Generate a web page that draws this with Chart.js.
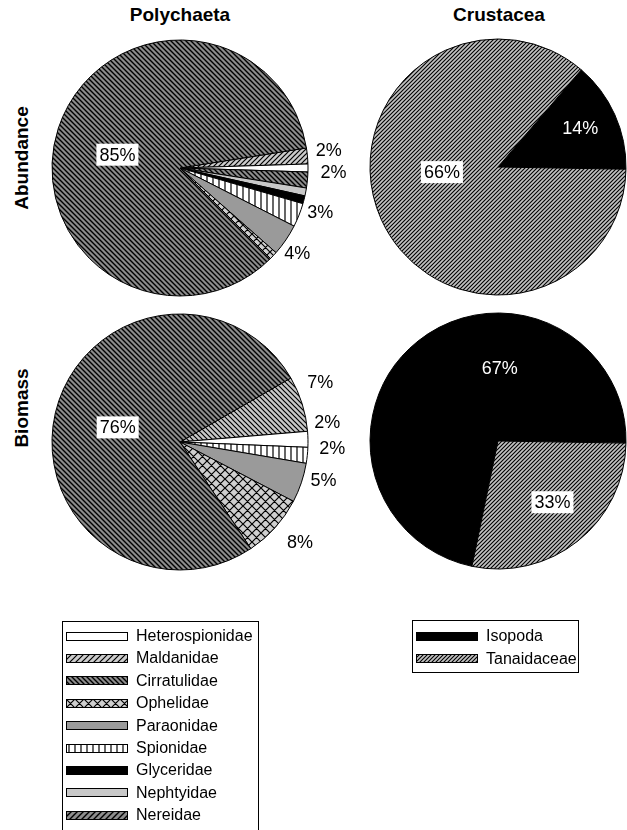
<!DOCTYPE html>
<html lang="en">
<head>
<meta charset="UTF-8">
<title>Polychaeta / Crustacea</title>
<style>
  body { margin:0; width:627px; height:830px; overflow:hidden; background:#fff; position:relative;
         font-family:"Liberation Sans", Arial, sans-serif; color:#000; }
  canvas.pie { position:absolute; }
  .title { position:absolute; font-weight:bold; font-size:19px; transform:translate(-50%,-50%); white-space:nowrap; }
  .row { position:absolute; font-weight:bold; font-size:19px; white-space:nowrap;
         transform:translate(-50%,-50%) rotate(-90deg); }
  .legend { position:absolute; border:1px solid #000; background:#fff; }
  .item { position:absolute; left:3px; height:20px; display:flex; align-items:center; font-size:16px; white-space:nowrap; }
  .item canvas { margin-right:8px; }
</style>
</head>
<body>

<div class="title" style="left:180px; top:15px;">Polychaeta</div>
<div class="title" style="left:499px; top:15px;">Crustacea</div>
<div class="row" style="left:22px; top:158px;">Abundance</div>
<div class="row" style="left:22px; top:408px;">Biomass</div>

<canvas class="pie" id="polyAbund" width="360" height="336" style="left:0; top:0;"></canvas>
<canvas class="pie" id="crusAbund" width="300" height="300" style="left:348px; top:17px;"></canvas>
<canvas class="pie" id="polyBio" width="360" height="340" style="left:0; top:272px;"></canvas>
<canvas class="pie" id="crusBio" width="300" height="300" style="left:348px; top:291px;"></canvas>

<div class="legend" id="polyLegend" style="left:62px; top:621px; width:195px; height:230px;"></div>
<div class="legend" id="crusLegend" style="left:412px; top:620px; width:165px; height:51px;"></div>

<script src="https://cdn.jsdelivr.net/npm/chart.js@4.4.1/dist/chart.umd.min.js"></script>
<script>
// --- data (slices listed clockwise) ---
const polyAbundTaxa = ['Maldanidae', 'Heterospionidae', 'Nereidae', 'Nephtyidae', 'Glyceridae', 'Spionidae', 'Paraonidae', 'Ophelidae', 'Cirratulidae'];
const polyAbundPct  = [2, 1, 2, 1, 1, 3, 4, 1, 85];
const polyAbundText = ['2%', '', '2%', '', '', '3%', '4%', '', '85%'];

const polyBioTaxa = ['Maldanidae', 'Heterospionidae', 'Spionidae', 'Paraonidae', 'Ophelidae', 'Cirratulidae'];
const polyBioPct  = [7, 2, 2, 5, 8, 76];
const polyBioText = ['7%', '2%', '2%', '5%', '8%', '76%'];

const crusTaxa = ['Isopoda', 'Tanaidaceae'];
// arc shares as drawn; the printed labels are kept as in the figure
const crusAbundShare = [14, 86];
const crusAbundText  = ['14%', '66%'];
const crusBioShare   = [72, 28];
const crusBioText    = ['67%', '33%'];

const polyLegendTaxa = ['Heterospionidae', 'Maldanidae', 'Cirratulidae', 'Ophelidae', 'Paraonidae', 'Spionidae', 'Glyceridae', 'Nephtyidae', 'Nereidae'];

// --- fill patterns ---
function tile(s, bg, draw) {
    var c = document.createElement('canvas');
    c.width = s; c.height = s;
    var g = c.getContext('2d');
    g.fillStyle = bg; g.fillRect(0, 0, s, s);
    g.strokeStyle = '#000';
    draw(g, s);
    return g.createPattern(c, 'repeat');
}
function back(bg, s, lw) {   // "\\\\"
    return tile(s, bg, function (g, s) {
        g.lineWidth = lw; g.beginPath();
        for (var k = -1; k <= 1; k++) { g.moveTo(-s, -s + k * s); g.lineTo(2 * s, 2 * s + k * s); }
        g.stroke();
    });
}
function fwd(bg, s, lw) {    // "////"
    return tile(s, bg, function (g, s) {
        g.lineWidth = lw; g.beginPath();
        for (var k = 0; k <= 2; k++) { g.moveTo(-s, k * s + s); g.lineTo(2 * s, k * s - 2 * s); }
        g.stroke();
    });
}
function vert(bg, s, lw) {
    return tile(s, bg, function (g, s) {
        g.lineWidth = lw; g.beginPath(); g.moveTo(s / 2, 0); g.lineTo(s / 2, s); g.stroke();
    });
}
function lattice(bg, s, lw) {
    return tile(s, bg, function (g, s) {
        g.lineWidth = lw; g.beginPath();
        for (var k = -1; k <= 1; k++) { g.moveTo(-s, -s + k * s); g.lineTo(2 * s, 2 * s + k * s); }
        for (var k = 0; k <= 2; k++) { g.moveTo(-s, k * s + s); g.lineTo(2 * s, k * s - 2 * s); }
        g.stroke();
    });
}

var fills = {
    Heterospionidae: '#ffffff',
    Maldanidae: fwd('#cccccc', 5, 1.2),
    Cirratulidae: back('#8c8c8c', 5, 1.4),
    Ophelidae: lattice('#cfcfcf', 9, 1.2),
    Paraonidae: '#9a9a9a',
    Spionidae: vert('#ffffff', 6, 1.2),
    Glyceridae: '#000000',
    Nephtyidae: '#c8c8c8',
    Nereidae: back('#8c8c8c', 5, 1.4),
    Isopoda: '#000000',
    Tanaidaceae: fwd('#c2c2c2', 4, 1.1)
};
var legendFills = Object.assign({}, fills, { Nereidae: fwd('#8c8c8c', 6, 1.4), Maldanidae: fwd('#cccccc', 6, 1.2) });
var bioMaldanidae = back('#c8c8c8', 5, 1.2);

// --- percentage labels, placed from each arc's own angles ---
var sliceText = {
    id: 'sliceText',
    afterDatasetsDraw: function (chart, args, opts) {
        var ctx = chart.ctx;
        var arcs = chart.getDatasetMeta(0).data;
        ctx.save();
        ctx.font = '18px "Liberation Sans", Arial, sans-serif';
        ctx.textAlign = 'center';
        ctx.textBaseline = 'middle';
        arcs.forEach(function (arc, i) {
            var t = opts.text[i];
            if (!t) return;
            var p = arc.getProps(['x', 'y', 'startAngle', 'endAngle', 'outerRadius'], true);
            var a = (p.startAngle + p.endAngle) / 2 + opts.place[i][0] * Math.PI / 180;
            var r = p.outerRadius * opts.place[i][1];
            var x = p.x + Math.cos(a) * r, y = p.y + Math.sin(a) * r;
            if (opts.boxed && opts.boxed[i]) {
                var w = ctx.measureText(t).width + 6;
                ctx.fillStyle = '#fff';
                ctx.fillRect(x - w / 2, y - 11, w, 22);
            }
            ctx.fillStyle = (opts.color && opts.color[i]) || '#000';
            ctx.fillText(t, x, y + 1);
        });
        ctx.restore();
    }
};

function pie(id, taxa, values, colors, rotation, labelOpts) {
    return new Chart(document.getElementById(id), {
        type: 'pie',
        data: {
            labels: taxa,
            datasets: [{ data: values, backgroundColor: colors, borderColor: '#000', borderWidth: 1 }]
        },
        options: {
            responsive: false,
            animation: false,
            events: [],
            radius: 128,
            rotation: rotation,
            layout: { padding: 0 },
            plugins: { legend: { display: false }, tooltip: { enabled: false }, sliceText: labelOpts }
        },
        plugins: [sliceText]
    });
}

pie('polyAbund', polyAbundTaxa, polyAbundPct, polyAbundTaxa.map(function (t) { return fills[t]; }), 81, {
    text: polyAbundText,
    place: [[-1.5, 1.17], [0, 1], [-4, 1.2], [0, 1], [0, 1], [-4, 1.15], [1.6, 1.13], [0, 1], [-6, 0.5]],
    boxed: [0, 0, 0, 0, 0, 0, 0, 0, 1]
});

pie('polyBio', polyBioTaxa, polyBioPct, polyBioTaxa.map(function (t) { return t === 'Maldanidae' ? bioMaldanidae : fills[t]; }), 60, {
    text: polyBioText,
    place: [[-5.6, 1.19], [-6.5, 1.16], [-3.7, 1.19], [-3.7, 1.16], [-2.2, 1.22], [0, 0.5]],
    boxed: [0, 0, 0, 0, 0, 1]
});

pie('crusAbund', crusTaxa, crusAbundShare, crusTaxa.map(function (t) { return fills[t]; }), 40.6, {
    text: crusAbundText,
    place: [[-1, 0.71], [19, 0.44]],
    boxed: [0, 1],
    color: ['#fff', '#000']
});

pie('crusBio', crusTaxa, crusBioShare, crusTaxa.map(function (t) { return fills[t]; }), 191.75, {
    text: crusBioText,
    place: [[40, 0.57], [-3, 0.64]],
    boxed: [0, 1],
    color: ['#fff', '#000']
});

// --- legends ---
function legend(id, taxa, firstTop, step) {
    var box = document.getElementById(id);
    taxa.forEach(function (t, i) {
        var row = document.createElement('div');
        row.className = 'item';
        row.style.top = (firstTop + step * i - 10) + 'px';
        var sw = document.createElement('canvas');
        sw.width = 62; sw.height = 9;
        var g = sw.getContext('2d');
        g.fillStyle = legendFills[t];
        g.fillRect(0, 0, 62, 9);
        g.strokeStyle = '#000'; g.lineWidth = 1;
        g.strokeRect(0.5, 0.5, 61, 8);
        row.appendChild(sw);
        row.appendChild(document.createTextNode(t));
        box.appendChild(row);
    });
}
legend('polyLegend', polyLegendTaxa, 14, 22.4);
legend('crusLegend', crusTaxa, 15, 22.5);
</script>
</body>
</html>
